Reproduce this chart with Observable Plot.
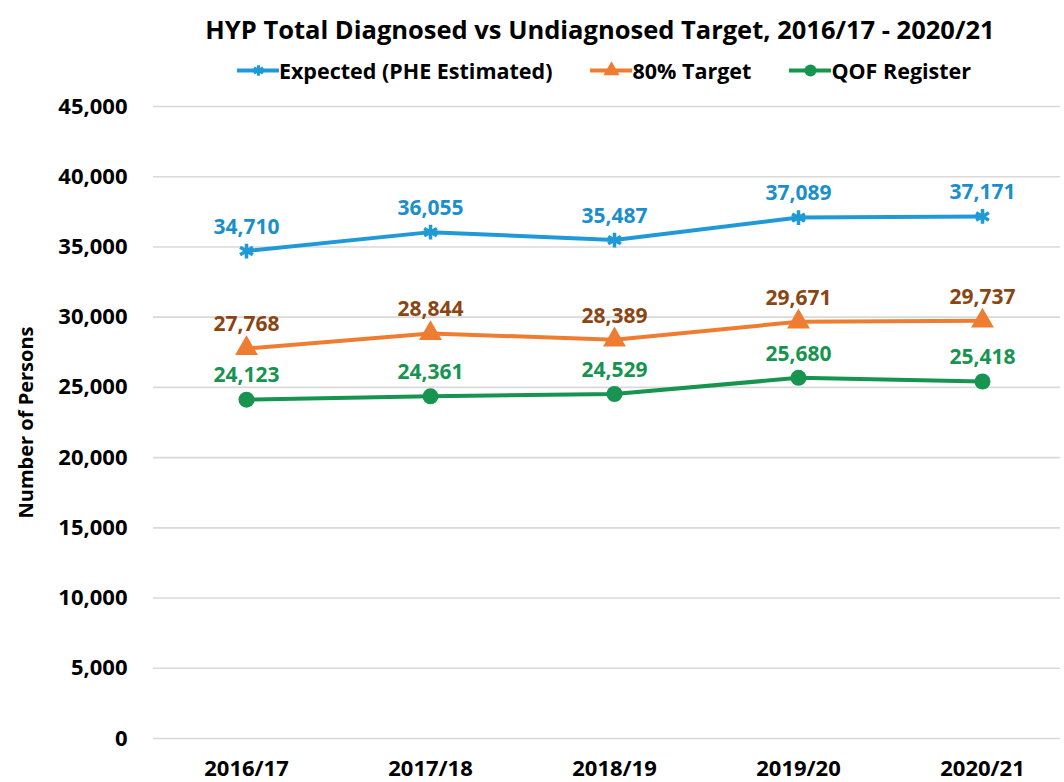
<!DOCTYPE html>
<html>
<head>
<meta charset="utf-8">
<script src="https://cdn.jsdelivr.net/npm/d3@7"></script>
<script src="https://cdn.jsdelivr.net/npm/@observablehq/plot@0.6"></script>
<style>
  body { margin: 0; background: #fff; font-family: "Open Sans", "Noto Sans", sans-serif; }
  #wrap { width: 1064px; position: relative; }
  #title { height: 50px; line-height: 58px; font-weight: 700; font-size: 25.5px; color: #000; text-align: center; padding-left: 136px; white-space: nowrap; }
  #legend { height: 40px; display: flex; justify-content: center; align-items: center; padding-left: 144px; font-weight: 700; font-size: 21.5px; color: #000; gap: 38px; }
  .item { display: flex; align-items: center; white-space: nowrap; }
  .item svg { margin-right: 0px; }
</style>
</head>
<body>
<div id="wrap">
  <div id="title"></div>
  <div id="legend"></div>
  <div id="chart"></div>
</div>
<script>
const titleText = "HYP Total Diagnosed vs Undiagnosed Target, 2016/17 - 2020/21";
const years = ["2016/17", "2017/18", "2018/19", "2019/20", "2020/21"];
const seriesNames = ["Expected (PHE Estimated)", "80% Target", "QOF Register"];
const expected = [34710, 36055, 35487, 37089, 37171];
const target80 = [27768, 28844, 28389, 29671, 29737];
const qofRegister = [24123, 24361, 24529, 25680, 25418];
const yTicks = [0, 5000, 10000, 15000, 20000, 25000, 30000, 35000, 40000, 45000];

const lineColors = ["#1f9ad6", "#ef7d31", "#17944f"];
const labelColors = ["#1a8fcc", "#8a4513", "#17944f"];
const symbols = ["asterisk", "triangle", "circle"];

const seriesValues = [expected, target80, qofRegister];
const data = [];
seriesValues.forEach((vals, s) => vals.forEach((v, i) => data.push({series: seriesNames[s], s, year: years[i], value: v})));

document.getElementById("title").textContent = titleText;

// legend
const legend = document.getElementById("legend");
seriesNames.forEach((name, s) => {
  const item = document.createElement("div");
  item.className = "item";
  const sw = Plot.plot({
    width: 42, height: 20, margin: 0,
    x: {domain: [0, 2], axis: null}, y: {domain: [0, 1], axis: null},
    marks: [
      Plot.ruleY([0.5], {stroke: lineColors[s], strokeWidth: 4}),
      Plot.dot([[1, 0.5]], {symbol: symbols[s], r: s === 0 ? 5 : 6, fill: s === 0 ? "none" : lineColors[s], stroke: lineColors[s], strokeWidth: s === 0 ? 3 : 0})
    ]
  });
  item.appendChild(sw);
  const t = document.createElement("span");
  t.textContent = name;
  item.appendChild(t);
  legend.appendChild(item);
});

const chart = Plot.plot({
  width: 1064,
  height: 692,
  marginTop: 16,
  marginBottom: 44,
  marginLeft: 153,
  marginRight: 4,
  style: {fontFamily: "'Open Sans', 'Noto Sans', sans-serif", fontSize: "22px", fontWeight: "700", color: "#000", background: "#fff"},
  x: {type: "point", domain: years, range: [244, 983], padding: 0},
  y: {domain: [0, 45000]},
  marks: [
    Plot.ruleY(yTicks, {stroke: "#d9d9d9", strokeWidth: 1.6}),
    Plot.axisY({ticks: yTicks, tickSize: 0, tickPadding: 26, tickFormat: d3.format(","), label: null, fontSize: 22}),
    Plot.axisY({ticks: [], tickSize: 0, label: "Number of Persons", labelAnchor: "center", labelArrow: "none", labelOffset: 135, fontSize: 20}),
    Plot.axisX({tickSize: 0, tickPadding: 22, label: null, fontSize: 22}),
    Plot.line(data, {x: "year", y: "value", z: "series", stroke: d => lineColors[d.s], strokeWidth: 4}),
    Plot.dot(data.filter(d => d.s === 0), {x: "year", y: "value", symbol: "asterisk", r: 7, stroke: lineColors[0], strokeWidth: 3.5}),
    Plot.dot(data.filter(d => d.s === 1), {x: "year", y: "value", symbol: "triangle", r: 8.5, fill: lineColors[1], stroke: "none"}),
    Plot.dot(data.filter(d => d.s === 2), {x: "year", y: "value", symbol: "circle", r: 8, fill: lineColors[2], stroke: "none"}),
    Plot.text(data, {x: "year", y: "value", text: d => d3.format(",")(d.value), dy: -24, fill: d => labelColors[d.s], fontSize: 21, fontWeight: 700})
  ]
});
document.getElementById("chart").appendChild(chart);
</script>
</body>
</html>
